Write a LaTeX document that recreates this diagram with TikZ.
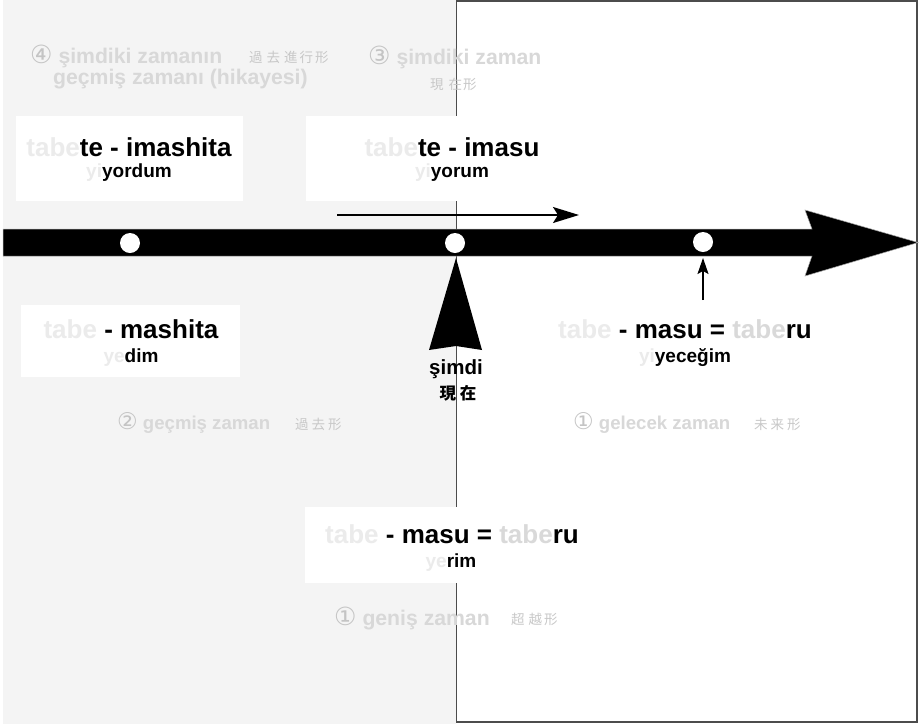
\documentclass[tikz,border=0pt]{standalone}
\usepackage{fontspec}
\setmainfont{Liberation Sans}
\newfontfamily\cjk{Noto Sans CJK JP}
\newfontfamily\dvs{DejaVu Sans}
\usetikzlibrary{arrows.meta}
\definecolor{bggray}{HTML}{F4F4F4}
\definecolor{pfx}{HTML}{EBEBEB}
\definecolor{midg}{HTML}{D9D9D9}
\definecolor{lbl}{HTML}{D8D8D8}
\definecolor{circ}{HTML}{C4C4C4}
\definecolor{kan}{HTML}{C8C8C8}
\newcommand{\cnum}[2]{{\fontsize{#1}{24}\selectfont\dvs\mdseries\color{circ}#2}}
\begin{document}
\begin{tikzpicture}[x=1pt,y=-1pt,
  wbox/.style={fill=white, draw=none, inner sep=0pt, outer sep=0pt},
  main/.style={anchor=base, inner sep=0pt, font=\fontsize{26}{30}\selectfont\bfseries},
  sub/.style={anchor=base, inner sep=0pt, font=\fontsize{19}{22}\selectfont\bfseries},
  sect/.style={anchor=base west, inner sep=0pt, text=lbl, font=\fontsize{18.6}{22}\selectfont\bfseries},
  bigsect/.style={anchor=base west, inner sep=0pt, text=lbl, font=\fontsize{21.2}{24}\selectfont\bfseries},
  kanji/.style={anchor=base west, inner sep=0pt, text=kan, font=\fontsize{13.5}{16}\selectfont\cjk},
  dot/.style={circle, fill=white, minimum size=20pt, inner sep=0pt},
  thinarrow/.style={line width=1.5pt, -{Stealth[length=26pt,width=16pt,inset=5pt]}},
  uparrow/.style={line width=1.5pt, -{Stealth[length=16pt,width=11pt,inset=3pt]}}
]
\useasboundingbox (0,0) rectangle (919,724);
% backgrounds
\fill[bggray] (3,0) rectangle (456,724);
\draw[fill=white, draw=black!70, line width=1.5pt] (456.5,1) rectangle (917,722);
% white boxes
\node[wbox, minimum width=227pt, minimum height=85pt] (b1) at (129.5,158.5) {};
\node[wbox, minimum width=286pt, minimum height=85pt] (b2) at (449,158.5) {};
\node[wbox, minimum width=219pt, minimum height=72pt] (b3) at (130.5,341) {};
\node[wbox, minimum width=289pt, minimum height=76pt] (b4) at (449.5,545) {};
% timeline
\coordinate (bs) at (3,242.5);
\coordinate (be) at (918,242.5);
\fill[black, draw=gray!70, line width=0.5pt] (bs) ++(0,-13.5) -- (812,229) -- (805,210) -- (be) -- (805,276) -- (812,256) -- (3,256) -- cycle;
\node[dot] (d1) at (130,243) {};
\node[dot] (d2) at (455,243) {};
\node[dot] (d3) at (703,242) {};
% arrows
\coordinate (sa1) at (337,215);
\coordinate (sa2) at (579,215);
\draw[thinarrow] (sa1) -- (sa2);
\coordinate (ua1) at (703,300);
\coordinate (ua2) at (703,258);
\draw[uparrow] (ua1) -- (ua2);
\fill[black] (456,258) -- (482,350) -- (456,346) -- (429,350) -- cycle;
% main labels
\node[main] (t1) at (129,156) {\textcolor{pfx}{tabe}te - imashita};
\node[sub]  (s1) at (129,177) {\textcolor{pfx}{yi}yordum};
\node[main] (t2) at (452,156) {\textcolor{pfx}{tabe}te - imasu};
\node[sub]  (s2) at (452,177) {\textcolor{pfx}{yi}yorum};
\node[main] (t3) at (131,338) {\textcolor{pfx}{tabe} - mashita};
\node[sub]  (s3) at (131,362) {\textcolor{pfx}{ye}dim};
\node[main] (t4) at (685,338) {\textcolor{pfx}{tabe} - masu = \textcolor{midg}{tabe}ru};
\node[sub]  (s4) at (685,362) {\textcolor{pfx}{yi}yeceğim};
\node[main] (t5) at (452,543) {\textcolor{pfx}{tabe} - masu = \textcolor{midg}{tabe}ru};
\node[sub]  (s5) at (451,567) {\textcolor{pfx}{ye}rim};
\node[anchor=base, inner sep=0pt, font=\fontsize{20.5}{24}\selectfont\bfseries] (now) at (456,374) {şimdi};
\node[anchor=base, inner sep=0pt, font=\fontsize{16.5}{20}\selectfont\cjk\bfseries] (nowk) at (458,399) {現\kern4pt 在};
% section labels
\node[bigsect] (l4) at (30,63) {\cnum{25}{④} şimdiki zamanın};
\node[kanji] (k4) at (249,62) {過\kern4pt 去\kern4pt 進\kern2pt 行\kern2pt 形};
\node[bigsect] (l4b) at (53,84) {geçmiş zamanı (hikayesi)};
\node[bigsect] (l3) at (368,64) {\cnum{25}{③} şimdiki zaman};
\node[kanji] (k3) at (430,89) {現\kern5pt 在\kern1pt 形};
\node[sect] (l2) at (117,429) {\cnum{23}{②} geçmiş zaman};
\node[kanji] (k2) at (295,429) {過\kern3pt 去\kern3pt 形};
\node[sect] (l1a) at (573,429) {\cnum{23}{①} gelecek zaman};
\node[kanji] (k1a) at (754,429) {未\kern3pt 来\kern3pt 形};
\node[bigsect] (l1b) at (334,625) {\cnum{25}{①} geniş zaman};
\node[kanji] (k1b) at (511,624) {超\kern4pt 越\kern2pt 形};
\end{tikzpicture}
\end{document}
